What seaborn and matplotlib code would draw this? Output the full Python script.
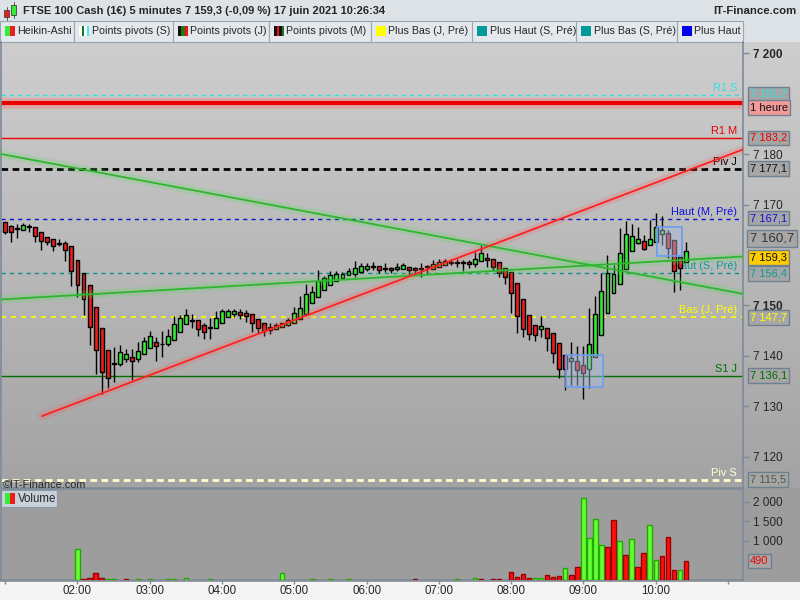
import numpy as np
import pandas as pd
import matplotlib
matplotlib.use("Agg")
import matplotlib.pyplot as plt
import matplotlib.transforms as mtransforms
from matplotlib.patches import Rectangle
from matplotlib.colors import LinearSegmentedColormap
from matplotlib import font_manager
import seaborn as sns

sns.set_style("white")
plt.rcParams["font.family"] = ["Liberation Sans", "DejaVu Sans"]

# ---------------- data (Heikin-Ashi 5-minute candles, 01:00 -> 10:25) ----------------
ha_open = [7166.5, 7165.7, 7165.1, 7164.9, 7165.5, 7165.5, 7164.5, 7163.5, 7163.1, 7162.2,
           7162.3, 7161.7, 7159.1, 7156.5, 7154.0, 7149.8, 7145.5, 7141.1, 7138.4, 7138.4,
           7139.5, 7139.9, 7139.5, 7140.3, 7141.5, 7142.8, 7142.3, 7142.3, 7143.1, 7144.7,
           7146.3, 7147.0, 7147.1, 7146.1, 7145.5, 7145.6, 7146.5, 7147.7, 7148.3, 7148.7,
           7148.5, 7148.3, 7147.3, 7146.5, 7145.7, 7145.4, 7145.8, 7146.2, 7146.6, 7147.3,
           7148.3, 7150.4, 7151.6, 7153.1, 7154.1, 7154.9, 7155.5, 7156.0, 7156.2, 7156.7,
           7157.3, 7157.8, 7157.8, 7157.3, 7157.4, 7157.2, 7157.3, 7157.6, 7157.4, 7157.2,
           7157.6, 7157.2, 7157.7, 7158.1, 7158.5, 7158.5, 7158.5, 7158.6, 7158.2, 7158.8,
           7159.5, 7159.3, 7158.6, 7157.4, 7156.6, 7154.4, 7151.2, 7148.2, 7146.2, 7145.3,
           7145.5, 7144.5, 7142.5, 7140.1, 7139.1, 7139.1, 7138.3, 7137.4, 7139.9, 7144.1,
           7148.5, 7152.4, 7154.3, 7157.2, 7160.7, 7162.3, 7162.8, 7161.9, 7162.6, 7164.1,
           7164.4, 7163.0, 7159.7, 7158.6]
ha_high = [7166.6, 7165.9, 7166.1, 7166.3, 7166.2, 7165.5, 7164.5, 7163.5, 7163.1, 7163.1,
           7162.8, 7161.7, 7159.1, 7156.5, 7154.0, 7149.8, 7145.5, 7141.1, 7141.8, 7142.2,
           7141.4, 7141.4, 7142.7, 7143.8, 7145.0, 7143.8, 7145.0, 7145.4, 7147.9, 7148.1,
           7149.4, 7148.4, 7147.1, 7146.5, 7147.5, 7149.0, 7149.4, 7149.4, 7149.4, 7149.3,
           7149.1, 7148.3, 7147.3, 7146.5, 7146.5, 7146.5, 7146.6, 7147.5, 7149.8, 7151.8,
           7154.3, 7153.9, 7157.0, 7155.8, 7156.9, 7156.9, 7156.6, 7157.4, 7158.8, 7158.5,
           7158.4, 7158.7, 7157.8, 7158.4, 7157.7, 7158.4, 7158.4, 7157.6, 7157.7, 7158.4,
           7158.0, 7159.1, 7159.3, 7159.3, 7159.3, 7159.2, 7159.0, 7159.0, 7160.5, 7161.9,
           7160.3, 7159.3, 7158.6, 7157.4, 7156.6, 7154.4, 7151.2, 7148.2, 7146.2, 7147.9,
           7145.5, 7144.5, 7142.5, 7140.1, 7142.8, 7142.0, 7141.9, 7149.6, 7151.8, 7156.4,
           7160.0, 7158.0, 7165.3, 7166.8, 7166.1, 7165.6, 7164.0, 7166.9, 7168.3, 7167.7,
           7165.0, 7163.0, 7159.7, 7162.6]
ha_low = [7164.1, 7162.5, 7163.4, 7164.9, 7164.6, 7162.6, 7160.9, 7161.9, 7160.7, 7161.7,
          7158.9, 7153.9, 7151.6, 7148.1, 7142.1, 7136.4, 7132.5, 7133.7, 7134.9, 7138.1,
          7138.9, 7135.3, 7138.9, 7140.3, 7141.5, 7139.1, 7139.9, 7141.9, 7143.1, 7144.7,
          7146.3, 7145.5, 7144.0, 7143.3, 7143.3, 7145.6, 7146.5, 7147.7, 7147.8, 7147.3,
          7146.8, 7144.8, 7144.3, 7144.0, 7144.4, 7145.3, 7145.7, 7145.9, 7146.6, 7147.3,
          7148.3, 7150.4, 7151.6, 7153.1, 7154.1, 7154.9, 7155.3, 7156.0, 7155.7, 7156.7,
          7156.9, 7157.0, 7156.4, 7156.7, 7156.4, 7156.9, 7157.2, 7155.8, 7156.1, 7155.7,
          7156.5, 7157.2, 7157.7, 7158.1, 7158.0, 7157.7, 7156.9, 7157.4, 7157.7, 7158.8,
          7157.7, 7156.9, 7155.7, 7154.3, 7148.5, 7144.6, 7143.8, 7143.2, 7143.0, 7143.7,
          7140.9, 7138.6, 7135.6, 7133.3, 7134.3, 7134.2, 7131.4, 7133.6, 7139.9, 7144.1,
          7148.5, 7152.4, 7154.3, 7157.2, 7160.7, 7162.1, 7160.9, 7161.9, 7162.6, 7162.0,
          7159.5, 7152.7, 7153.1, 7158.6]
ha_close = [7164.6, 7164.5, 7165.1, 7165.9, 7165.5, 7163.7, 7162.7, 7162.5, 7161.7, 7162.2,
            7160.9, 7156.8, 7154.0, 7151.2, 7145.7, 7141.1, 7136.8, 7135.6, 7138.4, 7140.7,
            7140.3, 7139.1, 7141.0, 7142.9, 7143.9, 7141.9, 7142.3, 7143.9, 7146.3, 7147.6,
            7148.1, 7147.0, 7145.3, 7144.8, 7145.5, 7147.5, 7148.9, 7148.9, 7148.9, 7148.2,
            7148.0, 7146.5, 7145.5, 7145.0, 7145.2, 7146.2, 7146.5, 7147.1, 7148.5, 7149.5,
            7152.3, 7152.7, 7154.9, 7155.4, 7156.1, 7156.2, 7156.2, 7156.8, 7157.4, 7157.8,
            7157.8, 7157.6, 7157.0, 7157.3, 7157.0, 7157.7, 7158.0, 7157.0, 7157.0, 7157.2,
            7157.6, 7158.2, 7158.6, 7158.8, 7158.5, 7158.5, 7158.5, 7158.2, 7159.3, 7160.3,
            7159.1, 7157.7, 7156.4, 7155.6, 7152.4, 7148.0, 7145.3, 7144.4, 7144.2, 7145.9,
            7143.5, 7140.5, 7137.4, 7137.4, 7139.7, 7137.2, 7136.6, 7142.4, 7148.3, 7152.9,
            7156.4, 7156.2, 7160.3, 7164.2, 7163.8, 7163.1, 7161.1, 7163.1, 7165.5, 7165.0,
            7161.3, 7156.8, 7157.4, 7160.7]

volume = [0, 0, 0, 0, 0, 0, 0, 0, 0, 0,
          0, 0, 780, 25, 50, 170, 50, 25, 25, 0,
          25, 0, 25, 0, 25, 0, 0, 25, 25, 0,
          50, 0, 0, 0, 25, 0, 0, 0, 0, 0,
          0, 0, 0, 0, 0, 0, 170, 0, 0, 0,
          0, 25, 0, 0, 25, 0, 0, 25, 0, 0,
          0, 0, 0, 0, 0, 0, 0, 0, 25, 0,
          0, 0, 0, 0, 0, 25, 0, 0, 40, 25,
          0, 25, 25, 0, 200, 76, 153, 51, 51, 51,
          127, 76, 102, 306, 127, 331, 2085, 1071, 1547, 892,
          841, 1530, 994, 637, 1045, 331, 688, 1402, 510, 612,
          1096, 255, 255, 490]
volume_dir = "".join([
    "..........", "..grrrrgg.", "r.g.g..gg.", "g...g.....",
    "......g...", ".g..g..g..", "........r.", ".....g..gr",
    ".rr.rrrrgg", "rrrgrrgggg", "rrgrgrrggr", "rrgr"])

hour_labels = ["", "02:00", "03:00", "04:00", "05:00", "06:00", "07:00",
               "08:00", "09:00", "10:00", ""]

level_names = ["R1 S", "R1 M", "Piv J", "Haut (M, Pré)", "Haut (S, Pré)",
               "Bas (J, Pré)", "S1 J", "Piv S"]
level_values = [7191.7, 7183.2, 7177.1, 7167.1, 7156.4, 7147.7, 7136.1, 7115.5]
hour_line_value = 7190.1
last_price = 7159.3
ha_last = 7160.7

trend_red_x, trend_red_y = [6.1, 122.5], [7128.1, 7180.9]
trend_g1_x, trend_g1_y = [-0.7, 122.5], [7180.0, 7152.3]
trend_g2_x, trend_g2_y = [-0.7, 122.5], [7151.2, 7159.7]

box_t0 = [93.1, 108.3]
box_t1 = [99.2, 112.4]
box_lo = [7133.9, 7159.8]
box_hi = [7140.1, 7165.5]

price_ticks = [7120, 7130, 7140, 7150, 7170, 7180, 7200]
vol_ticks = [1000, 1500, 2000]

df = pd.DataFrame({"open": ha_open, "high": ha_high, "low": ha_low,
                   "close": ha_close, "volume": volume,
                   "dir": list(volume_dir)})
df["i"] = np.arange(len(df))


def fr(v, dec=1):
    s = f"{v:,.{dec}f}"
    return s.replace(",", " ").replace(".", ",")


SLATE = "#7d8b99"
GREEN = "#33ee33"
RED = "#ee1c1c"

installed = {f.name for f in font_manager.fontManager.ttflist}
narrow = "Liberation Sans Narrow" if "Liberation Sans Narrow" in installed else "Liberation Sans"
big_fs = 11 if narrow == "Liberation Sans Narrow" else 9.5

# ---------------- figure & background ----------------
fig = plt.figure(figsize=(8, 6), dpi=100)
bg = fig.add_axes([0, 0, 1, 1])
bg.axis("off")
grad = np.linspace(0, 1, 256).reshape(-1, 1)
cmap = LinearSegmentedColormap.from_list("bgg", ["#cecece", "#a3a3a3"])
bg.imshow(grad, extent=(0, 800, 488, 42), cmap=cmap, aspect="auto", zorder=0)
bg.add_patch(Rectangle((0, 0), 800, 42, fc="#dde2e7", ec="none", zorder=1))
bg.add_patch(Rectangle((0, 488), 800, 94, fc="#9d9d9d", ec="none", zorder=1))
bg.add_patch(Rectangle((0, 582), 800, 18, fc="#f4f4f4", ec="none", zorder=1))
bg.set_xlim(0, 800)
bg.set_ylim(600, 0)

# header icon
bg.add_patch(Rectangle((4, 10), 5, 7, fc=RED, ec="#444", lw=0.6, zorder=3))
bg.plot([6.5, 6.5], [7, 20], color="#444", lw=0.6, zorder=2)
bg.add_patch(Rectangle((11, 5), 5, 10, fc=GREEN, ec="#444", lw=0.6, zorder=3))
bg.plot([13.5, 13.5], [2, 18], color="#444", lw=0.6, zorder=2)
bg.text(23, 11, "FTSE 100 Cash (1€) 5 minutes 7 159,3 (-0,09 %) 17 juin 2021 10:26:34",
        fontsize=8.0, fontweight="bold", va="center", ha="left", zorder=3)
bg.text(797, 11, "IT-Finance.com", fontsize=8.2, fontweight="bold",
        va="center", ha="right", zorder=3)

legend_items = [("Heikin-Ashi", 0, 74, [GREEN, RED]),
                ("Points pivots (S)", 74, 173, ["#ffffff", "#1a7a1a", "#ffffff", "#33f0f0"]),
                ("Points pivots (J)", 173, 269, ["#111111", "#1a7a1a", "#ee1111"]),
                ("Points pivots (M)", 269, 371, ["#111111", "#ee1111", "#111111", "#1a7a1a"]),
                ("Plus Bas (J, Pré)", 371, 472, ["#ffff00"]),
                ("Plus Haut (S, Pré)", 472, 576, ["#009a9a"]),
                ("Plus Bas (S, Pré)", 576, 677, ["#009a9a"]),
                ("Plus Haut", 677, 743, ["#0000ee"])]
for name, x0, x1, cols in legend_items:
    bg.add_patch(Rectangle((x0, 21), x1 - x0, 21, fc="#e4e8ec", ec="#9aa5b0", lw=0.8, zorder=2))
    w = 10 / len(cols)
    for k, c in enumerate(cols):
        bg.add_patch(Rectangle((x0 + 5 + k * w, 26), w, 10, fc=c, ec="none", zorder=3))
    bg.text(x0 + 17.5, 31.5, name, fontsize=7.7, va="center", ha="left", zorder=3)

# ---------------- main price panel ----------------
ax = fig.add_axes([1 / 800, 1 - 488 / 600, 742 / 800, 446 / 600])
ax.patch.set_alpha(0)
ax.set_xlim(-0.7, 122.5)
ax.set_ylim(7113.86, 7202.18)
blend = mtransforms.blended_transform_factory(ax.transAxes, ax.transData)

lvl_style = {
    "R1 S": dict(color="#33e0e0", lw=1.0, ls=(0, (3, 3))),
    "R1 M": dict(color="#ee0000", lw=1.0, ls="-"),
    "Piv J": dict(color="#000000", lw=2.0, ls=(0, (2.4, 1.6))),
    "Haut (M, Pré)": dict(color="#1010cc", lw=1.0, ls=(0, (3, 3))),
    "Haut (S, Pré)": dict(color="#0a8f8f", lw=1.0, ls=(0, (3, 3))),
    "Bas (J, Pré)": dict(color="#ffff00", lw=1.2, ls=(0, (3, 3))),
    "S1 J": dict(color="#006e00", lw=1.0, ls="-"),
    "Piv S": dict(color="#ffffcc", lw=2.0, ls=(0, (2.4, 1.6))),
}
lvl_text = {"R1 S": "#33e0e0", "R1 M": "#ee0000", "Piv J": "#000000",
            "Haut (M, Pré)": "#1010dd", "Haut (S, Pré)": "#0a9a9a",
            "Bas (J, Pré)": "#ffff00", "S1 J": "#006e00", "Piv S": "#ffffcc"}
for name, val in zip(level_names, level_values):
    st = lvl_style[name]
    ax.axhline(val, color=st["color"], lw=st["lw"], ls=st["ls"], zorder=1)
    ax.annotate(name, xy=(0.992, val), xycoords=blend, xytext=(0, 7),
                textcoords="offset pixels", ha="right", va="center",
                fontsize=7.9, color=lvl_text[name], zorder=1)

ax.axhline(hour_line_value, color="#ff7070", lw=8, alpha=0.35, zorder=1)
ax.axhline(hour_line_value, color="#ee0000", lw=3, zorder=1)

# candles
df["bot"] = df[["open", "close"]].min(axis=1)
df["h"] = (df["close"] - df["open"]).abs().clip(lower=0.15)
df["col"] = np.where(df["close"] > df["open"], GREEN,
                     np.where(df["close"] < df["open"], RED, "#000000"))
ax.vlines(df["i"], df["low"], df["high"], colors="black", lw=1.0, zorder=3)
ax.bar(df["i"], df["h"], bottom=df["bot"], width=0.66, color=df["col"],
       edgecolor="black", linewidth=1.0, zorder=4)

# trend lines (seaborn) with glow
for xs, ys, c, gc in [(trend_g1_x, trend_g1_y, "#2fb52f", "#55dd55"),
                      (trend_g2_x, trend_g2_y, "#2fb52f", "#55dd55"),
                      (trend_red_x, trend_red_y, "#ff2020", "#ff6060")]:
    sns.lineplot(x=xs, y=ys, ax=ax, color=gc, linewidth=6, alpha=0.22, zorder=5, legend=False)
    sns.lineplot(x=xs, y=ys, ax=ax, color=c, linewidth=1.3, zorder=6, legend=False)

# selection boxes
for t0, t1, lo, hi in zip(box_t0, box_t1, box_lo, box_hi):
    ax.add_patch(Rectangle((t0, lo), t1 - t0, hi - lo, fc="#a9bde0", alpha=0.45,
                           ec="none", zorder=7))
    ax.add_patch(Rectangle((t0, lo), t1 - t0, hi - lo, fc="none",
                           ec="#6a9cf0", lw=1.2, zorder=7))

ax.set_xticks([])
ax.yaxis.tick_right()
ax.set_yticks(price_ticks)
ax.set_yticklabels([fr(t, 0) for t in price_ticks])
ax.tick_params(axis="y", length=4, width=1, color=SLATE, labelsize=8.5, pad=3,
               right=True, left=False)
for lab in ax.get_yticklabels():
    if lab.get_text() in ("7 200", "7 150"):
        lab.set_fontweight("bold")
ax.spines["top"].set_visible(False)
for s in ["left", "right", "bottom"]:
    ax.spines[s].set_color(SLATE)
    ax.spines[s].set_linewidth(1.2)
ax.grid(False)


def vbox(text, y, tc, fc="#a6a6a6", fs=8.0, fam=None):
    kw = {}
    if fam:
        kw["family"] = fam
    ax.annotate(text, xy=(1.0, y), xycoords=blend, xytext=(7, 0),
                textcoords="offset pixels", ha="left", va="center",
                fontsize=fs, color=tc, annotation_clip=False, zorder=10,
                bbox=dict(boxstyle="square,pad=0.2", fc=fc, ec="#6f8090", lw=1), **kw)


vbox(fr(7191.7), 7191.9, "#33e0e0")
vbox("1 heure", 7189.2, "#111111", fc="#f29a9a")
vbox(fr(7183.2), 7183.2, "#ee0000")
vbox(fr(7177.1), 7177.1, "#111111")
vbox(fr(7167.1), 7167.3, "#1010dd")
vbox(fr(ha_last), 7163.3, "#333333", fs=big_fs, fam=narrow)
vbox(fr(last_price), 7159.5, "#111111", fc="#ffcc00")
vbox(fr(7156.4), 7156.3, "#0a9a9a")
vbox(fr(7147.7), 7147.6, "#ffff00")
vbox(fr(7136.1), 7136.1, "#006e00")
vbox(fr(7115.5), 7115.5, "#555544")

# ---------------- volume panel ----------------
vax = fig.add_axes([1 / 800, 1 - 580 / 600, 742 / 800, 91 / 600])
vax.patch.set_alpha(0)
vdf = df[df["volume"] > 0]
fills = np.where(vdf["dir"] == "g", "#66ff33", "#ff1010")
edges = np.where(vdf["dir"] == "g", "#22aa00", "#990000")
vax.bar(vdf["i"], vdf["volume"], width=0.72, color=fills, edgecolor=edges,
        linewidth=1.0, zorder=3)
vax.set_xlim(-0.7, 122.5)
vax.set_ylim(0, 2320)
vax.yaxis.tick_right()
vax.set_yticks(vol_ticks)
vax.set_yticklabels([fr(t, 0) for t in vol_ticks])
vax.set_xticks(list(range(0, 121, 12)))
vax.set_xticklabels(hour_labels)
vax.tick_params(axis="y", length=4, width=1, color=SLATE, labelsize=8.5, pad=3,
                right=True, left=False)
vax.tick_params(axis="x", length=3, width=1, color=SLATE, labelsize=8.3, pad=0.5,
                bottom=True)
for s in ["left", "right", "bottom", "top"]:
    vax.spines[s].set_color(SLATE)
    vax.spines[s].set_linewidth(1.2)
vax.grid(False)
vax.annotate("490", xy=(1.0, 490),
             xycoords=mtransforms.blended_transform_factory(vax.transAxes, vax.transData),
             xytext=(7, 0), textcoords="offset pixels", ha="left", va="center",
             fontsize=8.0, color="#ee0000", annotation_clip=False,
             bbox=dict(boxstyle="square,pad=0.2", fc="#a6a6a6", ec="#6f8090", lw=1))

# volume legend & copyright (drawn above the panels)
bg.add_patch(Rectangle((1, 490), 56, 17, fc="#c9d1da", ec="#8a9aa8", lw=0.8, zorder=3))
fig.patches.append(Rectangle((5 / 800, 1 - 504 / 600), 5 / 800, 11 / 600, fc=GREEN, ec="none",
                             transform=fig.transFigure, figure=fig, zorder=5))
fig.patches.append(Rectangle((10 / 800, 1 - 504 / 600), 5 / 800, 11 / 600, fc=RED, ec="none",
                             transform=fig.transFigure, figure=fig, zorder=5))
fig.text(18 / 800, 1 - 498.5 / 600, "Volume", fontsize=8.3, va="center", ha="left", zorder=6)
fig.text(3 / 800, 1 - 484.5 / 600, "©IT-Finance.com", fontsize=7.8, va="center", ha="left", zorder=6)

fig.savefig("out.png", dpi=100)
